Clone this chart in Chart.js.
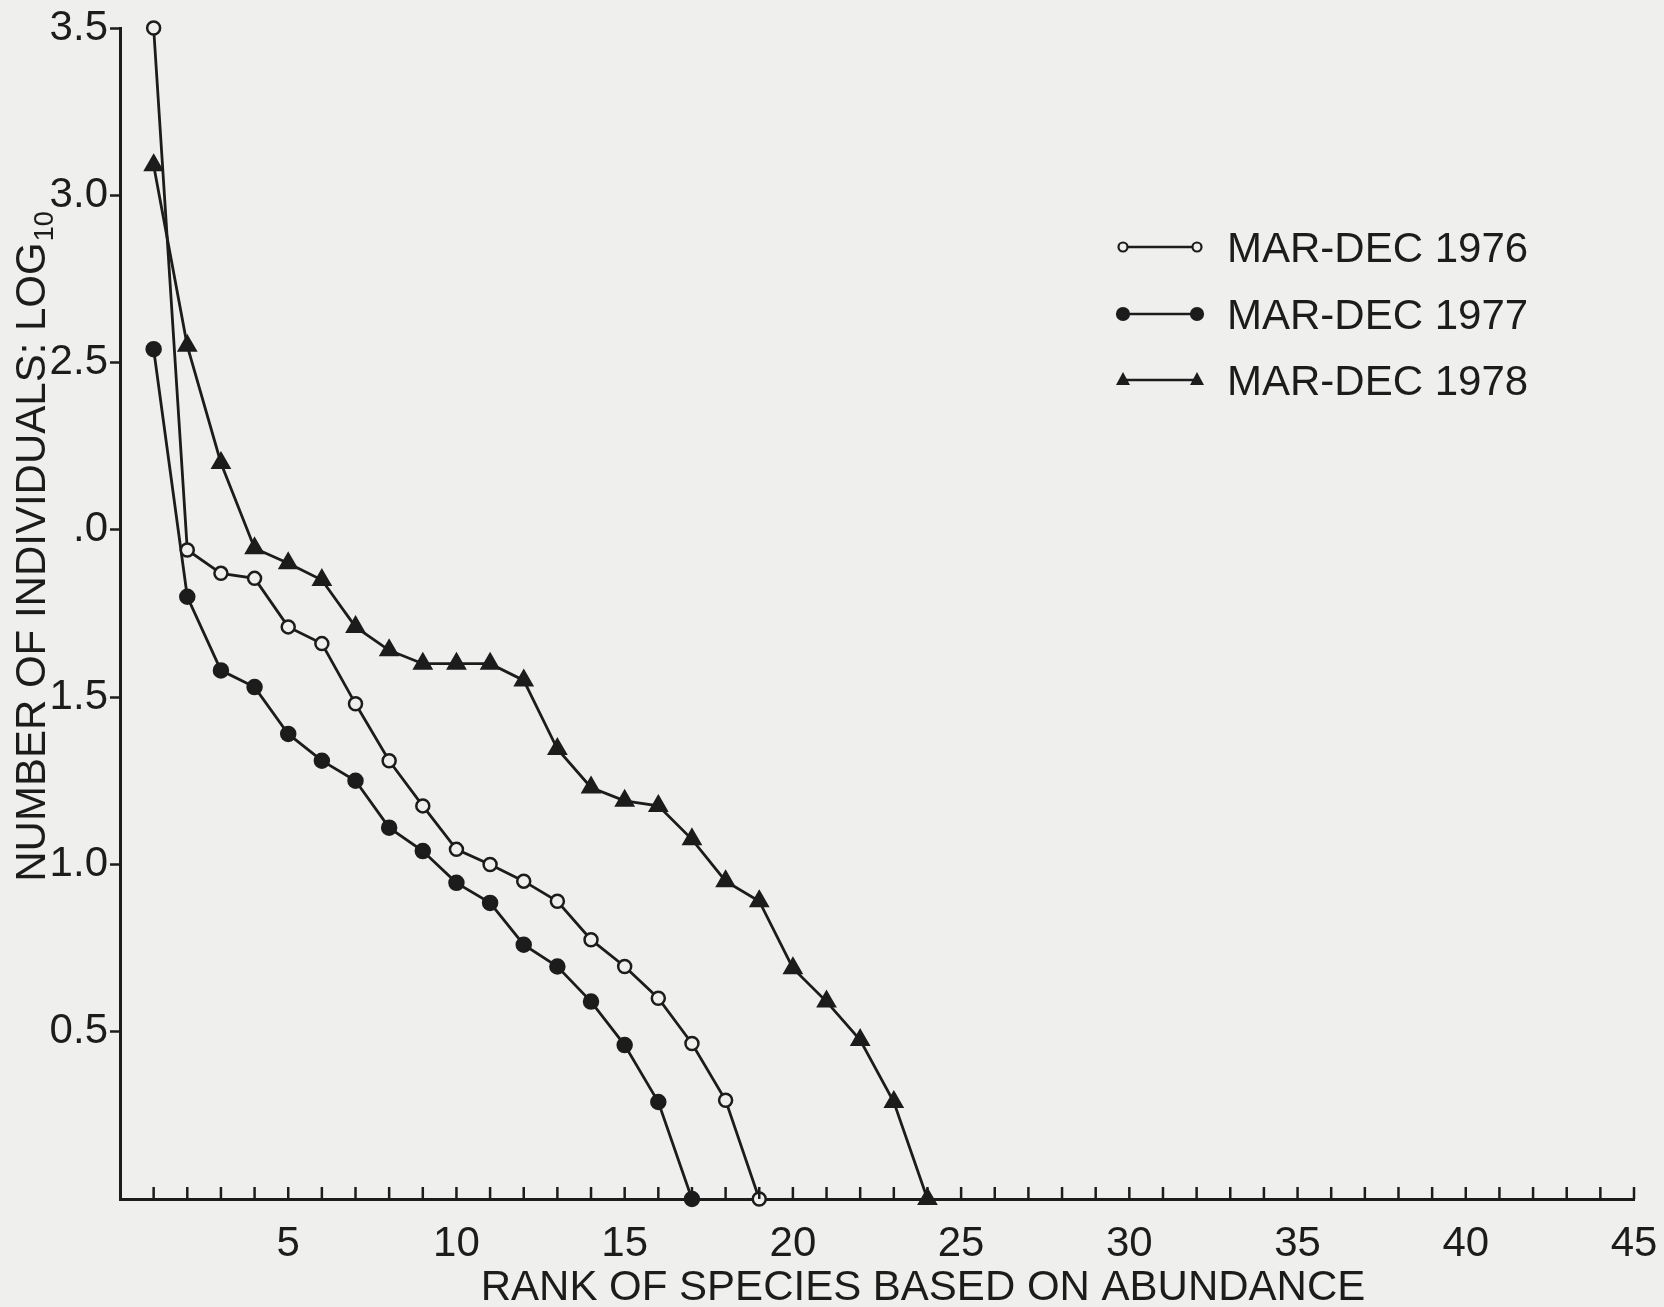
<!DOCTYPE html>
<html>
<head>
<meta charset="utf-8">
<script src="https://cdn.jsdelivr.net/npm/chart.js@4.4.0/dist/chart.umd.min.js"></script>
<style>
  html, body { margin: 0; padding: 0; background: #efefed; }
  #wrap { width: 1664px; height: 1307px; position: relative; }
</style>
</head>
<body>
<div id="wrap"><canvas id="rankChart"></canvas></div>
<script>
// log10 of number of individuals; rank = index + 1
const series1976 = [3.50, 1.94, 1.87, 1.855, 1.71, 1.66, 1.48, 1.31, 1.175, 1.045,
                    1.00, 0.95, 0.89, 0.775, 0.695, 0.60, 0.465, 0.295, 0];
const series1977 = [2.54, 1.80, 1.58, 1.53, 1.39, 1.31, 1.25, 1.11, 1.04, 0.945,
                    0.885, 0.76, 0.695, 0.59, 0.46, 0.29, 0];
const series1978 = [3.09, 2.55, 2.20, 1.945, 1.90, 1.85, 1.71, 1.64, 1.60, 1.60,
                    1.60, 1.55, 1.345, 1.23, 1.19, 1.175, 1.075, 0.95, 0.89, 0.69,
                    0.59, 0.475, 0.29, 0];
const seriesLabels = ['MAR-DEC 1976', 'MAR-DEC 1977', 'MAR-DEC 1978'];
const xTickValues = [5, 10, 15, 20, 25, 30, 35, 40, 45];
const yTickValues = [0.5, 1, 1.5, 2, 2.5, 3, 3.5];
const yTickText = ['0.5', '1.0', '1.5', '.0', '2.5', '3.0', '3.5'];

const ink = '#1c1c1c';
const paper = '#efefed';
const fontFam = '"Liberation Sans", Arial, sans-serif';

const toPoints = arr => arr.map((v, i) => ({ x: i + 1, y: v }));

const baseSet = {
    borderColor: ink,
    borderWidth: 2.8,
    pointBorderColor: ink,
    pointBorderWidth: 2.5,
    tension: 0,
    clip: false,
    fill: false
};

// axis titles, minor ticks on x, legend
const decor = {
    id: 'decor',
    afterDraw(chart) {
        const ctx = chart.ctx;
        const xs = chart.scales.x;
        const area = chart.chartArea;
        ctx.save();
        ctx.strokeStyle = ink;
        ctx.fillStyle = ink;
        ctx.lineWidth = 2.5;

        // small inward ticks every rank
        for (let i = 1; i <= 45; i++) {
            const px = xs.getPixelForValue(i);
            ctx.beginPath();
            ctx.moveTo(px, area.bottom);
            ctx.lineTo(px, area.bottom - 12);
            ctx.stroke();
        }

        // x title
        ctx.font = '42px ' + fontFam;
        ctx.textAlign = 'center';
        ctx.textBaseline = 'alphabetic';
        ctx.fillText('RANK OF SPECIES BASED ON ABUNDANCE', 923, 1300);

        // y title with subscript
        const main = 'NUMBER OF INDIVIDUALS: LOG';
        ctx.translate(45, 547);
        ctx.rotate(-Math.PI / 2);
        ctx.font = '42px ' + fontFam;
        const w1 = ctx.measureText(main).width;
        ctx.font = '27px ' + fontFam;
        const w2 = ctx.measureText('10').width;
        const start = -(w1 + w2) / 2;
        ctx.textAlign = 'left';
        ctx.font = '42px ' + fontFam;
        ctx.fillText(main, start, 0);
        ctx.font = '27px ' + fontFam;
        ctx.fillText('10', start + w1 + 1, 8);
        ctx.setTransform(1, 0, 0, 1, 0, 0);

        // legend
        const rows = [247, 314, 380];
        chart.data.datasets.forEach((ds, i) => {
            const y = rows[i];
            ctx.lineWidth = 2.5;
            ctx.beginPath();
            ctx.moveTo(1123, y);
            ctx.lineTo(1197, y);
            ctx.stroke();
            [1123, 1197].forEach(px => {
                ctx.beginPath();
                if (ds.pointStyle === 'triangle') {
                    ctx.moveTo(px, y - 8);
                    ctx.lineTo(px + 7, y + 5);
                    ctx.lineTo(px - 7, y + 5);
                    ctx.closePath();
                    ctx.fillStyle = ink;
                    ctx.fill();
                } else {
                    const r = ds.pointBackgroundColor === ink ? 6 : 4.5;
                    ctx.arc(px, y, r, 0, Math.PI * 2);
                    ctx.fillStyle = ds.pointBackgroundColor;
                    ctx.fill();
                    ctx.lineWidth = 2.2;
                    ctx.stroke();
                }
            });
            ctx.fillStyle = ink;
            ctx.font = '42px ' + fontFam;
            ctx.textAlign = 'left';
            ctx.fillText(ds.label, 1227, y + 15);
        });
        ctx.restore();
    }
};

const ctx1 = document.getElementById('rankChart').getContext('2d');
const rankChart = new Chart(ctx1, {
    type: 'line',
    data: {
        datasets: [
            Object.assign({}, baseSet, {
                label: seriesLabels[0],
                data: toPoints(series1976),
                pointStyle: 'circle',
                pointRadius: 6.5,
                pointBackgroundColor: paper
            }),
            Object.assign({}, baseSet, {
                label: seriesLabels[1],
                data: toPoints(series1977),
                pointStyle: 'circle',
                pointRadius: 7,
                pointBackgroundColor: ink
            }),
            Object.assign({}, baseSet, {
                label: seriesLabels[2],
                data: toPoints(series1978),
                pointStyle: 'triangle',
                pointRadius: 9.5,
                pointBackgroundColor: ink
            })
        ]
    },
    options: {
        responsive: true,
        maintainAspectRatio: false,
        animation: false,
        layout: { padding: { top: 28, right: 30, left: 0, bottom: 0 } },
        plugins: {
            legend: { display: false },
            tooltip: { enabled: false }
        },
        scales: {
            x: {
                type: 'linear',
                min: 0,
                max: 45,
                afterFit(s) { s.height = 108; s.paddingLeft = 0; s.paddingRight = 0; },
                grid: { display: true, drawOnChartArea: false, drawTicks: false },
                border: { display: true, color: ink, width: 3 },
                ticks: {
                    stepSize: 5,
                    maxRotation: 0,
                    autoSkip: false,
                    padding: 20,
                    color: ink,
                    font: { family: fontFam, size: 42 },
                    callback: v => xTickValues.includes(v) ? String(v) : ''
                }
            },
            y: {
                min: 0,
                max: 3.5,
                afterFit(s) { s.width = 120; s.paddingTop = 0; s.paddingBottom = 0; },
                grid: {
                    display: true,
                    drawOnChartArea: false,
                    drawTicks: true,
                    tickLength: 10,
                    tickWidth: 2.5,
                    tickColor: c => c.tick && c.tick.value === 0 ? 'rgba(0,0,0,0)' : ink
                },
                border: { display: true, color: ink, width: 3 },
                ticks: {
                    stepSize: 0.5,
                    padding: 2,
                    color: ink,
                    font: { family: fontFam, size: 42 },
                    callback: v => {
                        const k = yTickValues.indexOf(v);
                        return k < 0 ? '' : yTickText[k];
                    }
                }
            }
        }
    },
    plugins: [decor]
});
</script>
</body>
</html>
